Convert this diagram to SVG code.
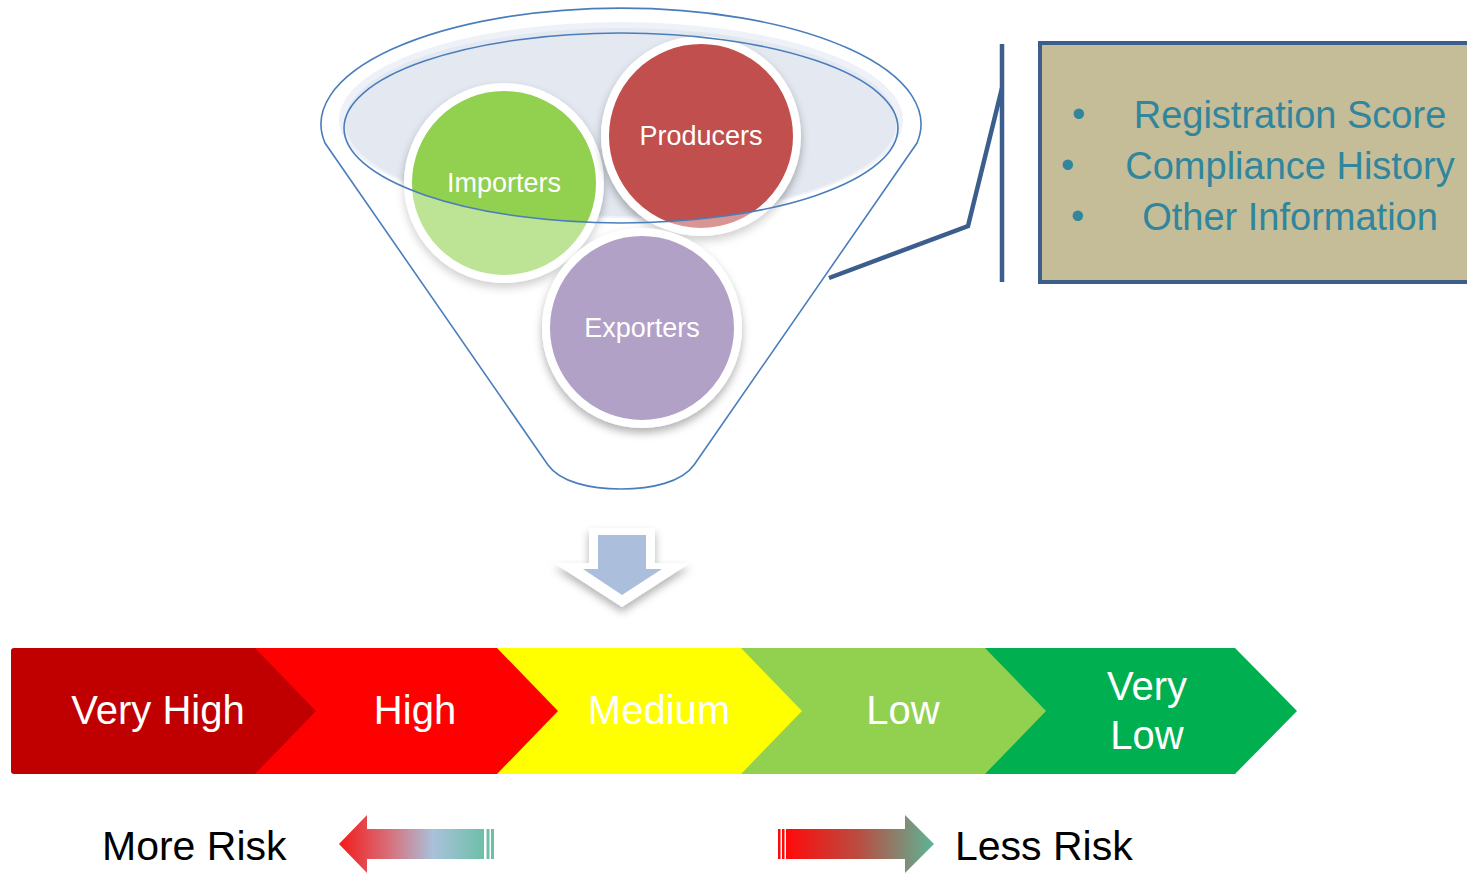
<svg xmlns="http://www.w3.org/2000/svg" width="1467" height="875" viewBox="0 0 1467 875">
<style>
.fun{fill:none;stroke:#4A7EBB;stroke-width:1.6}
.lbl{font-family:"Liberation Sans",Arial,sans-serif;fill:#fff;text-anchor:middle;font-size:27px}
.circ{stroke:#fff;stroke-width:8;filter:url(#sh)}
.call{fill:none;stroke:#3B5E8C;stroke-width:4.5}
.ct{font-family:"Liberation Sans",Arial,sans-serif;font-size:38px;fill:#31859C}
.cv{font-family:"Liberation Sans",Arial,sans-serif;font-size:40px;fill:#fff;text-anchor:middle}
.rk{font-family:"Liberation Sans",Arial,sans-serif;font-size:41px;fill:#000}
</style>
<defs>
<filter id="sh" x="-20%" y="-20%" width="140%" height="150%">
<feDropShadow dx="0" dy="5" stdDeviation="4" flood-color="#000" flood-opacity="0.3"/>
</filter>
<linearGradient id="gl" x1="0" y1="0" x2="1" y2="0">
<stop offset="0" stop-color="#F21B1B"/>
<stop offset="0.35" stop-color="#D8707A"/>
<stop offset="0.65" stop-color="#A9C1DB"/>
<stop offset="1" stop-color="#6DBFA8"/>
</linearGradient>
<linearGradient id="gr" x1="0" y1="0" x2="1" y2="0">
<stop offset="0" stop-color="#FF0A0A"/>
<stop offset="0.5" stop-color="#B84E42"/>
<stop offset="1" stop-color="#5CB596"/>
</linearGradient>
</defs>
<rect width="1467" height="875" fill="#fff"/>

<g id="funnel">
<ellipse cx="621" cy="120" rx="282" ry="98" fill="#EEF2F8"/>
<ellipse cx="621" cy="122" rx="276" ry="94" fill="#E3E8F1"/>
</g>

<g id="importers">
<circle class="circ" cx="504" cy="183" r="96" fill="#92D050"/>
<text class="lbl" x="504" y="192">Importers</text>
</g>
<g id="producers">
<circle class="circ" cx="701" cy="136" r="96" fill="#C0504D"/>
<text class="lbl" x="701" y="145">Producers</text>
</g>

<g id="funnel-front">
<path d="M344 128 A277 95 0 0 0 898 128 L898 295 L344 295 Z" fill="#fff" fill-opacity="0.4"/>
<ellipse class="fun" cx="621" cy="128" rx="277" ry="95"/>
<path class="fun" d="M325 143 A300 116 0 1 1 917 143 L694 465 C682 482 652 489 621 489 C590 489 560 482 548 465 Z"/>
</g>

<g id="exporters">
<circle class="circ" cx="642" cy="328" r="96" fill="#B2A1C7"/>
<text class="lbl" x="642" y="337">Exporters</text>
</g>

<g id="criteria">
<rect x="1040" y="43" width="440" height="239" fill="#C4BD97" stroke="#3B5E8C" stroke-width="4"/>
<text class="ct" x="1072" y="127">•</text>
<text class="ct" x="1061" y="178">•</text>
<text class="ct" x="1071" y="229">•</text>
<text class="ct" x="1290" y="128" text-anchor="middle">Registration Score</text>
<text class="ct" x="1290" y="179" text-anchor="middle">Compliance History</text>
<text class="ct" x="1290" y="230" text-anchor="middle">Other Information</text>
</g>

<g id="connectors">
<line class="call" x1="1002" y1="44" x2="1002" y2="282"/>
<polyline class="call" points="1002,88 968,226 829,278"/>
</g>

<g id="down-arrow">
<polygon points="589,528 655,528 655,563 690,563 622,607 554,563 589,563" fill="#fff" filter="url(#sh)"/>
<polygon points="598,535 646,535 646,569 662,569 622,595 583,569 598,569" fill="#ABBEDB"/>
</g>

<g id="very-low">
<polygon points="985,648 1235,648 1297,711 1235,774 985,774" fill="#00B050"/>
<text class="cv" x="1147" y="700">Very</text>
<text class="cv" x="1147" y="749">Low</text>
</g>
<g id="low">
<polygon points="741,648 985,648 1046,711 985,774 741,774" fill="#92D050"/>
<text class="cv" x="903" y="724">Low</text>
</g>
<g id="medium">
<polygon points="497,648 741,648 802,711 741,774 497,774" fill="#FFFF00"/>
<text class="cv" x="659" y="724">Medium</text>
</g>
<g id="high">
<polygon points="255,648 497,648 558,711 497,774 255,774" fill="#FF0000"/>
<text class="cv" x="415" y="724">High</text>
</g>
<g id="very-high">
<path d="M14 648 L255 648 L316 711 L255 774 L14 774 Q11 774 11 771 L11 651 Q11 648 14 648 Z" fill="#C00000"/>
<text class="cv" x="158" y="724">Very High</text>
</g>

<g id="more-risk">
<text class="rk" x="102" y="860" font-size="42">More Risk</text>
<polygon points="339,844 367,815 367,829 484,829 484,859 367,859 367,873" fill="url(#gl)"/>
<rect x="486.5" y="829" width="3" height="30" fill="#6DBFA8"/>
<rect x="491" y="829" width="3" height="30" fill="#6DBFA8"/>
</g>
<g id="less-risk">
<rect x="778" y="829" width="2.5" height="30" fill="#FF0A0A"/>
<rect x="782" y="829" width="2.5" height="30" fill="#FF0A0A"/>
<polygon points="786,829 905,829 905,815 934,844 905,873 905,859 786,859" fill="url(#gr)"/>
<text class="rk" x="955" y="860">Less Risk</text>
</g>
</svg>
